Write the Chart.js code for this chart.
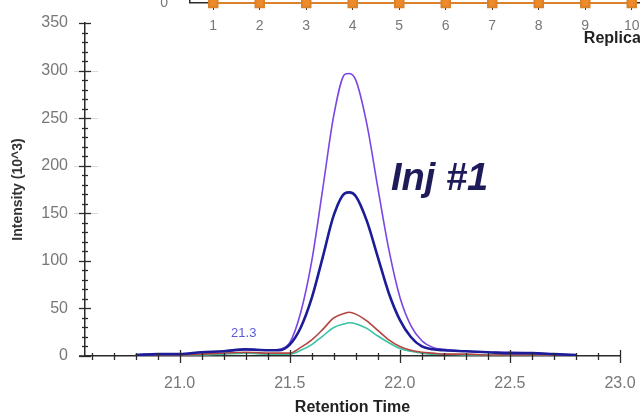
<!DOCTYPE html>
<html lang="en">
<head>
<meta charset="UTF-8">
<title>Inj #1</title>
<style>
    html, body { margin: 0; padding: 0; background: #fff; overflow: hidden; }
    #wrap { position: relative; width: 640px; height: 419px; overflow: hidden; }
    #main { position: absolute; left: 0; top: 0; }
    #top { position: absolute; left: 0; top: -52px; }
</style>
</head>
<body>
<div id="wrap">
    <canvas id="main" width="640" height="419"></canvas>
    <canvas id="top" width="680" height="100"></canvas>
</div>

<script src="https://cdn.jsdelivr.net/npm/chart.js@4.4.1/dist/chart.umd.min.js"></script>
<script>
    const FONT = "'Liberation Sans', Arial, sans-serif";

    // retention time (min) and intensity (10^3) per trace
    const retTime = [20.80, 20.90, 21.00, 21.10, 21.20, 21.30, 21.40, 21.45, 21.50, 21.55,
                     21.60, 21.65, 21.70, 21.75, 21.77, 21.80, 21.85, 21.90, 21.95, 22.00,
                     22.05, 22.10, 22.15, 22.20, 22.30, 22.40, 22.50, 22.60, 22.70, 22.80];
    const navy   = [1, 2, 2, 4, 5, 7, 6, 6, 12, 30, 61, 104, 148, 171, 172, 168, 142, 104, 66, 38, 20, 10, 7, 6, 5, 4, 3, 3, 2, 1];
    const violet = [1, 2, 2, 4, 5, 7, 6, 7, 14, 46, 100, 176, 253, 296, 297, 290, 244, 177, 112, 62, 32, 16, 9, 7, 5, 4, 4, 3, 2, 1];
    const red    = [0, 1, 1, 2, 3, 4, 3, 3, 3, 9, 17, 28, 40, 45, 46, 44, 37, 27, 17, 10, 6, 4, 3, 2, 2, 1, 1, 1, 1, 0];
    const teal   = [0, 1, 1, 1, 2, 3, 2, 2, 2, 6, 12, 21, 30, 34, 35, 34, 29, 21, 14, 8, 5, 3, 2, 2, 1, 1, 1, 1, 0, 0];

    const xLabels = [21.0, 21.5, 22.0, 22.5, 23.0];
    const yLabels = [0, 50, 100, 150, 200, 250, 300, 350];

    // small peak tag on the baseline bump
    const peakTag = { x: 21.3, y: 7, text: '21.3' };

    // replicate strip above the chromatogram
    const replicates = ['1', '2', '3', '4', '5', '6', '7', '8', '9', '10'];
    const repValues = [0, 0, 0, 0, 0, 0, 0, 0, 0, 0];

    function trace(values, color, width) {
        return {
            data: retTime.map((t, i) => ({ x: t, y: values[i] })),
            borderColor: color,
            borderWidth: width,
            pointRadius: 0,
            cubicInterpolationMode: 'monotone',
            fill: false
        };
    }

    function isLabel(list, v) {
        return list.some(m => Math.abs(m - v) < 1e-6);
    }

    // tick marks that cross the axis lines, plus the text overlays
    const axisMarks = {
        id: 'axisMarks',
        afterDraw(chart) {
            const c = chart.ctx;
            const xs = chart.scales.x, ys = chart.scales.y;
            const left = chart.chartArea.left, bottom = chart.chartArea.bottom;
            c.save();

            c.strokeStyle = 'rgba(170,170,170,0.45)';
            c.lineWidth = 1;
            [150, 200, 250, 300].forEach(v => {
                const py = Math.round(ys.getPixelForValue(v)) + 0.5;
                c.beginPath();
                c.moveTo(left - 11, py);
                c.lineTo(left + 13, py);
                c.stroke();
            });

            c.strokeStyle = '#2a2a2a';
            c.lineWidth = 1.3;
            ys.ticks.forEach(t => {
                const py = Math.round(ys.getPixelForValue(t.value)) + 0.5;
                const len = isLabel(yLabels, t.value) ? 6 : 3;
                c.beginPath();
                c.moveTo(left - len, py);
                c.lineTo(left + len, py);
                c.stroke();
            });
            xs.ticks.forEach(t => {
                const px = Math.round(xs.getPixelForValue(t.value)) + 0.5;
                const major = isLabel(xLabels, t.value);
                const up = major ? 6 : 3, down = major ? 7 : 4;
                c.beginPath();
                c.moveTo(px, bottom - up);
                c.lineTo(px, bottom + down);
                c.stroke();
            });
            // the x axis line runs a little past the y axis
            c.lineWidth = 1.5;
            c.beginPath();
            c.moveTo(left - 6, bottom);
            c.lineTo(left, bottom);
            c.stroke();

            c.fillStyle = '#5b5bd8';
            c.font = '13px ' + FONT;
            c.textAlign = 'center';
            c.textBaseline = 'middle';
            c.fillText(peakTag.text, xs.getPixelForValue(peakTag.x) - 2, ys.getPixelForValue(peakTag.y) - 16);

            c.fillStyle = '#1d1b58';
            c.font = 'italic bold 38px ' + FONT;
            c.textAlign = 'left';
            c.textBaseline = 'alphabetic';
            c.fillText('Inj #1', 391, 190);
            c.restore();
        }
    };

    new Chart(document.getElementById('main'), {
        type: 'line',
        data: {
            datasets: [
                trace(navy, '#1c1c98', 2.6),
                trace(violet, '#7a46e4', 1.6),
                trace(red, '#b5443f', 1.6),
                trace(teal, '#38c2a6', 1.6)
            ]
        },
        options: {
            responsive: false,
            animation: false,
            layout: { padding: { top: 23, right: 20, left: 10, bottom: 0 } },
            plugins: { legend: { display: false }, tooltip: { enabled: false } },
            scales: {
                x: {
                    type: 'linear',
                    min: 20.57,
                    max: 23.0,
                    afterBuildTicks: scale => {
                        const ticks = [];
                        for (let i = 206; i <= 230; i++) ticks.push({ value: i / 10 });
                        scale.ticks = ticks;
                    },
                    afterFit: scale => {
                        scale.height = 63;
                        scale.paddingLeft = 0;
                        scale.paddingRight = 0;
                    },
                    grid: { display: false, drawTicks: false },
                    border: { display: true, color: '#2a2a2a', width: 1.5 },
                    ticks: {
                        autoSkip: false,
                        maxRotation: 0,
                        padding: 18,
                        color: '#777',
                        font: { family: FONT, size: 16 },
                        callback: v => isLabel(xLabels, v) ? v.toFixed(1) : ''
                    },
                    title: {
                        display: true,
                        text: 'Retention Time',
                        color: '#222',
                        font: { family: FONT, size: 16, weight: 'bold' },
                        padding: { top: 2, bottom: 2 }
                    }
                },
                y: {
                    min: 0,
                    max: 350,
                    afterBuildTicks: scale => {
                        const ticks = [];
                        for (let v = 0; v <= 350; v += 10) ticks.push({ value: v });
                        scale.ticks = ticks;
                    },
                    afterFit: scale => {
                        scale.width = 75;
                        scale.paddingTop = 0;
                        scale.paddingBottom = 0;
                    },
                    grid: { display: false, drawTicks: false },
                    border: { display: true, color: '#2a2a2a', width: 1.5 },
                    ticks: {
                        autoSkip: false,
                        padding: 17,
                        color: '#777',
                        font: { family: FONT, size: 16 },
                        callback: v => isLabel(yLabels, v) ? String(v) : ''
                    },
                    title: {
                        display: true,
                        text: 'Intensity (10^3)',
                        color: '#333',
                        font: { family: FONT, size: 14, weight: 'bold' },
                        padding: 0
                    }
                }
            }
        },
        plugins: [axisMarks]
    });

    new Chart(document.getElementById('top'), {
        type: 'line',
        data: {
            labels: replicates,
            datasets: [{
                data: repValues,
                borderColor: '#d9822b',
                backgroundColor: '#ee8a2a',
                borderWidth: 2,
                pointStyle: 'rect',
                pointRadius: 6,
                clip: false
            }]
        },
        options: {
            responsive: false,
            animation: false,
            layout: { padding: { top: 10, right: 25, left: 0, bottom: 0 } },
            plugins: { legend: { display: false }, tooltip: { enabled: false } },
            scales: {
                x: {
                    offset: true,
                    afterFit: scale => { scale.height = 45; },
                    grid: { drawOnChartArea: false, drawTicks: true, tickLength: 7, color: '#333' },
                    border: { color: '#2a2a2a', width: 1.5 },
                    ticks: { color: '#777', padding: 8, font: { family: FONT, size: 14 } },
                    title: {
                        display: true,
                        text: 'Replicate',
                        align: 'end',
                        color: '#222',
                        font: { family: FONT, size: 16, weight: 'bold' },
                        padding: { top: 2, bottom: 0 }
                    }
                },
                y: {
                    min: 0,
                    max: 10,
                    afterFit: scale => { scale.width = 190; },
                    grid: { display: false },
                    border: { color: '#2a2a2a', width: 1.5 },
                    ticks: { stepSize: 10, color: '#777', padding: 14, font: { family: FONT, size: 14 } }
                }
            }
        }
    });
</script>
</body>
</html>
